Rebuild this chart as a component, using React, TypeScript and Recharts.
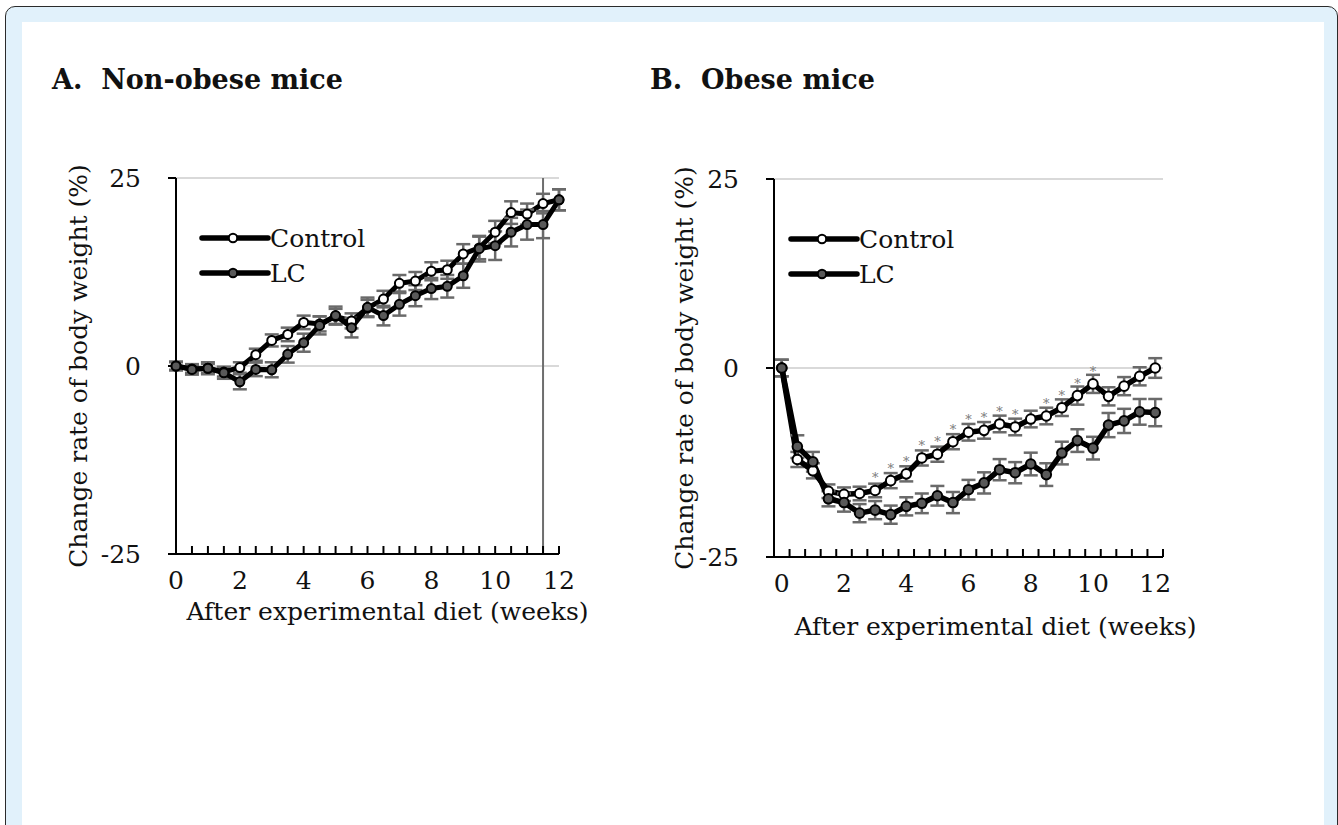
import React from 'react';
import { LineChart, Line, XAxis, YAxis, CartesianGrid, ErrorBar, ReferenceLine, Legend, LabelList } from 'recharts';

const weeks = [0, 0.5, 1, 1.5, 2, 2.5, 3, 3.5, 4, 4.5, 5, 5.5, 6, 6.5, 7, 7.5, 8, 8.5, 9, 9.5, 10, 10.5, 11, 11.5, 12];

// Panel A: non-obese mice
const aControl = [0, -0.4, -0.3, -0.8, -0.2, 1.5, 3.4, 4.2, 5.8, 5.6, 6.6, 6.0, 7.7, 8.9, 11.0, 11.3, 12.6, 12.8, 14.9, 15.7, 17.8, 20.4, 20.2, 21.6, 22.1];
const aControlErr = [0.5, 0.5, 0.6, 0.6, 0.7, 0.8, 0.8, 0.9, 0.9, 1.0, 1.0, 1.0, 1.1, 1.1, 1.1, 1.2, 1.2, 1.2, 1.3, 1.5, 1.5, 1.5, 1.4, 1.3, 1.4];
const aLC = [0, -0.45, -0.3, -0.9, -2.1, -0.45, -0.5, 1.55, 3.1, 5.4, 6.7, 5.1, 7.8, 6.7, 8.2, 9.35, 10.3, 10.6, 12.0, 15.6, 16.0, 17.8, 18.8, 18.8, 22.1];
const aLCErr = [0.6, 0.7, 0.8, 0.8, 1.0, 0.9, 1.0, 1.1, 1.2, 1.2, 1.2, 1.3, 1.3, 1.3, 1.5, 1.4, 1.4, 1.5, 1.6, 1.7, 1.9, 1.9, 2.0, 1.8, 1.4];

// Panel B: obese mice
const bControl = [0, -12.1, -13.6, -16.3, -16.7, -16.6, -16.2, -14.9, -14.0, -11.9, -11.4, -9.75, -8.5, -8.25, -7.4, -7.8, -6.75, -6.35, -5.25, -3.65, -2.1, -3.75, -2.4, -1.1, 0];
const bControlErr = [1.1, 1.0, 1.0, 0.9, 0.9, 0.9, 0.9, 1.0, 1.0, 1.0, 1.0, 1.0, 1.1, 1.1, 1.1, 1.1, 1.1, 1.1, 1.1, 1.2, 1.2, 1.2, 1.2, 1.2, 1.3];
const bLC = [0, -10.4, -12.4, -17.3, -17.8, -19.2, -18.8, -19.4, -18.3, -17.9, -16.9, -17.8, -16.1, -15.2, -13.45, -13.85, -12.7, -14.1, -11.25, -9.6, -10.6, -7.55, -7.0, -5.8, -5.9];
const bLCErr = [1.1, 1.5, 1.3, 1.0, 1.2, 1.2, 1.2, 1.2, 1.2, 1.3, 1.3, 1.4, 1.3, 1.4, 1.4, 1.4, 1.5, 1.5, 1.5, 1.5, 1.5, 1.6, 1.6, 1.7, 1.8];
const bSignificant = [0, 0, 0, 0, 0, 0, 1, 1, 1, 1, 1, 1, 1, 1, 1, 1, 0, 1, 1, 1, 1, 0, 0, 0, 0];

// Ticks
const yTicks = [-25, 0, 25];
const xLabelTicks = [0, 2, 4, 6, 8, 10, 12];
const aTickMarks = [0, 0.5, 1, 1.5, 2, 2.5, 3, 3.5, 4, 4.5, 5, 5.5, 6, 6.5, 7, 7.5, 8, 8.5, 9, 9.5, 10, 10.5, 11, 11.5, 12];
const bTickMarks = [0.25, 0.75, 1.25, 1.75, 2.25, 2.75, 3.25, 3.75, 4.25, 4.75, 5.25, 5.75, 6.25, 6.75, 7.25, 7.75, 8.25, 8.75, 9.25, 9.75, 10.25, 10.75, 11.25, 11.75, 12.25];

const seriesNames = { control: 'Control', lc: 'LC' };
const markerFill: Record<string, string> = { Control: '#ffffff', LC: '#595959' };

const FONT = 'DejaVu Serif';
const ERR_COLOR = '#6a6a6a';

const dataA = weeks.map((w, i) => ({ week: w, control: aControl[i], controlErr: aControlErr[i], lc: aLC[i], lcErr: aLCErr[i] }));
const dataB = weeks.map((w, i) => ({ week: w, control: bControl[i], controlErr: bControlErr[i], lc: bLC[i], lcErr: bLCErr[i], sig: bSignificant[i] }));

const makeXTick = (marks: number[], labels: number[]) => (props: any) => {
  const { x, y, payload } = props;
  const v = payload.value;
  return (
    <g>
      {marks.includes(v) && <line x1={x} x2={x} y1={y} y2={y - 8} stroke="#000" strokeWidth={2} />}
      {labels.includes(v) && (
        <text x={x} y={y + 35} textAnchor="middle" fontFamily={FONT} fontSize={25} fill="#111">
          {v}
        </text>
      )}
    </g>
  );
};

const LegendContent = (props: any) => {
  const { payload } = props;
  return (
    <svg width={170} height={72} style={{ overflow: 'visible', display: 'block' }}>
      {(payload || []).map((p: any, i: number) => (
        <g key={i} transform={`translate(0, ${i * 35})`}>
          <line x1={3} x2={69} y1={12} y2={12} stroke="#000" strokeWidth={5.5} strokeLinecap="round" />
          <circle cx={34} cy={12} r={4.2} fill={markerFill[p.value]} stroke="#000" strokeWidth={2} />
          <text x={71} y={12} dy="0.36em" fontFamily={FONT} fontSize={25} fill="#111">
            {p.value}
          </text>
        </g>
      ))}
    </svg>
  );
};

const StarLabel = (props: any) => {
  const { x, y, value } = props;
  if (!value) return null;
  return (
    <text x={x} y={y - 8} textAnchor="middle" fontFamily={FONT} fontSize={13} fill="#7a7a7a">
      *
    </text>
  );
};

const yLabel = (cx: number) => (props: any) => {
  const vb = props.viewBox || {};
  const cy = vb.y + vb.height / 2;
  return (
    <text
      x={cx}
      y={cy}
      transform={`rotate(-90 ${cx} ${cy})`}
      textAnchor="middle"
      dominantBaseline="central"
      fontFamily={FONT}
      fontSize={25}
      fill="#111"
    >
      Change rate of body weight (%)
    </text>
  );
};

const xLabel = (dx: number, dy: number) => (props: any) => {
  const vb = props.viewBox || {};
  return (
    <text x={vb.x + vb.width / 2 + dx} y={vb.y + dy} textAnchor="middle" fontFamily={FONT} fontSize={25} fill="#111">
      After experimental diet (weeks)
    </text>
  );
};

const yTickStyle = { fontFamily: FONT, fontSize: 25, fill: '#111' };

export default function App() {
  return (
    <div style={{ position: 'absolute', left: 0, top: 0, width: 1338, height: 825, overflow: 'hidden', background: '#fff' }}>
      <div
        style={{
          position: 'absolute',
          left: 5,
          top: 6,
          width: 1333,
          height: 900,
          background: '#e1f1fb',
          border: '1.5px solid #2b2b2b',
          borderRadius: 10,
          boxSizing: 'border-box',
        }}
      />
      <div style={{ position: 'absolute', left: 22, top: 22, width: 1302, height: 900, background: '#fff' }} />
      <svg style={{ position: 'absolute', left: 0, top: 0 }} width={1338} height={120}>
        <text x={52} y={89} fontFamily={FONT} fontWeight="bold" fontSize={27} fill="#111" xmlSpace="preserve">
          A.  Non-obese mice
        </text>
        <text x={650} y={89} fontFamily={FONT} fontWeight="bold" fontSize={27} fill="#111" xmlSpace="preserve">
          B.  Obese mice
        </text>
      </svg>

      {/* Panel A */}
      <div style={{ position: 'absolute', left: 0, top: 0 }}>
        <LineChart width={620} height={680} data={dataA} margin={{ top: 178, right: 61, left: 0, bottom: 0 }}>
          <CartesianGrid vertical={false} stroke="#d9d9d9" strokeWidth={2} />
          <ReferenceLine x={11.5} stroke="#6e6e6e" strokeWidth={2} />
          <XAxis
            dataKey="week"
            type="number"
            domain={[0, 12]}
            ticks={aTickMarks}
            interval={0}
            height={126}
            axisLine={{ stroke: '#000', strokeWidth: 2 }}
            tickLine={false}
            tickSize={0}
            tickMargin={0}
            tick={makeXTick(aTickMarks, xLabelTicks)}
            label={{ content: xLabel(20, 66) }}
          />
          <YAxis
            type="number"
            domain={[-25, 25]}
            ticks={yTicks}
            interval={0}
            width={176}
            axisLine={{ stroke: '#000', strokeWidth: 2 }}
            tickLine={{ stroke: '#000', strokeWidth: 2 }}
            tickSize={8}
            tickMargin={27}
            tick={yTickStyle}
            label={{ content: yLabel(78) }}
          />
          <Legend
            layout="vertical"
            align="center"
            verticalAlign="middle"
            content={<LegendContent />}
            wrapperStyle={{ position: 'absolute', left: 199, top: 226, width: 170 }}
          />
          <Line
            name={seriesNames.control}
            dataKey="control"
            stroke="#000"
            strokeWidth={5}
            dot={{ r: 4.5, fill: '#ffffff', stroke: '#000', strokeWidth: 2 }}
            activeDot={false}
            isAnimationActive={false}
          >
            <ErrorBar dataKey="controlErr" direction="y" width={7} stroke={ERR_COLOR} strokeWidth={2.5} />
          </Line>
          <Line
            name={seriesNames.lc}
            dataKey="lc"
            stroke="#000"
            strokeWidth={5}
            dot={{ r: 4.5, fill: '#595959', stroke: '#000', strokeWidth: 2 }}
            activeDot={false}
            isAnimationActive={false}
          >
            <ErrorBar dataKey="lcErr" direction="y" width={7} stroke={ERR_COLOR} strokeWidth={2.5} />
          </Line>
        </LineChart>
      </div>

      {/* Panel B */}
      <div style={{ position: 'absolute', left: 620, top: 0 }}>
        <LineChart width={718} height={680} data={dataB} margin={{ top: 179, right: 175, left: 0, bottom: 0 }}>
          <CartesianGrid vertical={false} stroke="#d9d9d9" strokeWidth={2} />
          <XAxis
            dataKey="week"
            type="number"
            domain={[-0.25, 12.25]}
            ticks={[...xLabelTicks, ...bTickMarks].sort((p, q) => p - q)}
            interval={0}
            height={123}
            axisLine={{ stroke: '#000', strokeWidth: 2 }}
            tickLine={false}
            tickSize={0}
            tickMargin={0}
            tick={makeXTick(bTickMarks, xLabelTicks)}
            label={{ content: xLabel(27, 78) }}
          />
          <YAxis
            type="number"
            domain={[-25, 25]}
            ticks={yTicks}
            interval={0}
            width={154}
            axisLine={{ stroke: '#000', strokeWidth: 2 }}
            tickLine={{ stroke: '#000', strokeWidth: 2 }}
            tickSize={8}
            tickMargin={27}
            tick={yTickStyle}
            label={{ content: yLabel(64) }}
          />
          <Legend
            layout="vertical"
            align="center"
            verticalAlign="middle"
            content={<LegendContent />}
            wrapperStyle={{ position: 'absolute', left: 168, top: 227, width: 170 }}
          />
          <Line
            name={seriesNames.control}
            dataKey="control"
            stroke="#000"
            strokeWidth={5.5}
            dot={{ r: 4.8, fill: '#ffffff', stroke: '#000', strokeWidth: 2 }}
            activeDot={false}
            isAnimationActive={false}
          >
            <ErrorBar dataKey="controlErr" direction="y" width={7} stroke={ERR_COLOR} strokeWidth={2.5} />
            <LabelList dataKey="sig" content={<StarLabel />} />
          </Line>
          <Line
            name={seriesNames.lc}
            dataKey="lc"
            stroke="#000"
            strokeWidth={5.5}
            dot={{ r: 4.8, fill: '#595959', stroke: '#000', strokeWidth: 2 }}
            activeDot={false}
            isAnimationActive={false}
          >
            <ErrorBar dataKey="lcErr" direction="y" width={7} stroke={ERR_COLOR} strokeWidth={2.5} />
          </Line>
        </LineChart>
      </div>
    </div>
  );
}
